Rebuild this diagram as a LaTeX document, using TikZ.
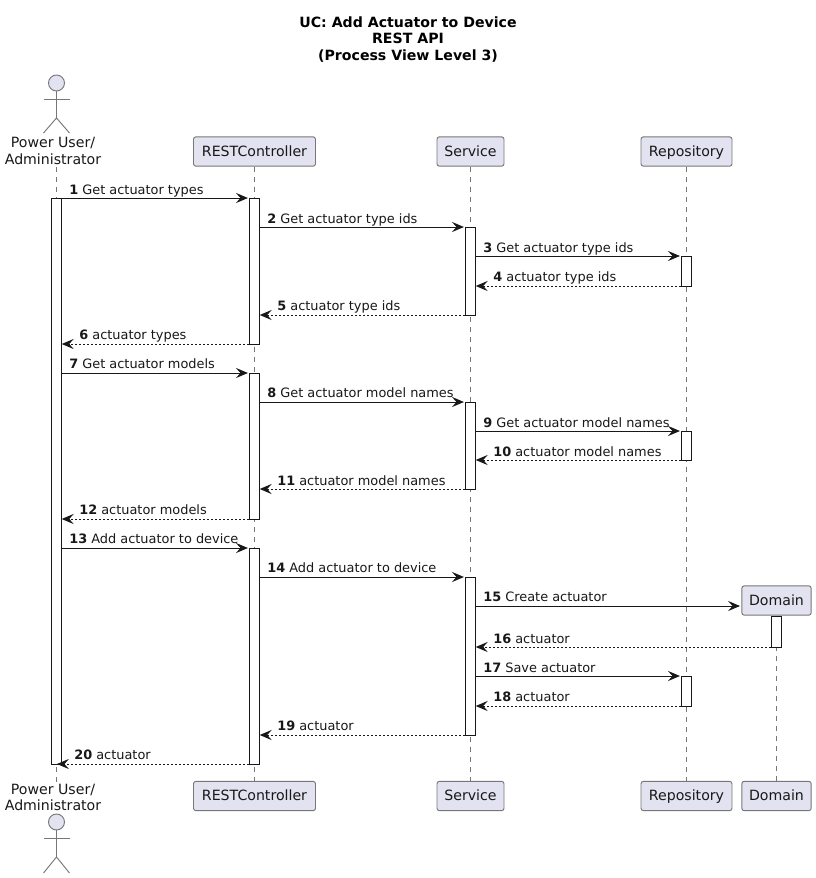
\documentclass[tikz,border=0pt]{standalone}
\usepackage{fontspec}
\setmainfont{DejaVu Sans}
\usetikzlibrary{arrows.meta}
\definecolor{inkc}{HTML}{181818}
\definecolor{partc}{HTML}{E2E2F0}
\definecolor{greyl}{HTML}{777777}
\tikzset{
  x=0.75pt,y=-0.75pt,
  part/.style={draw=greyl,fill=partc,line width=0.7pt,rounded corners=1.8pt,inner sep=0pt,
    minimum height=22pt,text height=9pt,text depth=1.7pt,font=\fontsize{10.6}{12.4}\selectfont,text=inkc},
  lifeline/.style={draw=greyl,line width=0.5pt,dash pattern=on 3.75pt off 3.75pt},
  actorline/.style={draw=greyl,line width=0.7pt},
  actorhead/.style={circle,draw=greyl,fill=partc,line width=0.7pt,minimum size=12pt,inner sep=0pt},
  actorname/.style={align=center,inner sep=0pt,font=\fontsize{10.6}{12.2}\selectfont,text=inkc},
  act/.style={draw=inkc,fill=white,line width=0.75pt,inner sep=0pt,minimum width=7.5pt},
  tip/.style={-{Stealth[length=9pt,width=7.6pt,inset=3.4pt]}},
  call/.style={tip,draw=inkc,line width=0.75pt},
  reply/.style={tip,draw=inkc,line width=0.75pt,dash pattern=on 1.5pt off 1.5pt},
  msg/.style={anchor=base west,inner sep=0pt,font=\fontsize{9.68}{11.5}\selectfont,text=inkc},
}
\newcommand{\num}[1]{\textbf{#1}}
\begin{document}
\begin{tikzpicture}
\useasboundingbox (0,0) rectangle (816,878);
\node[align=center,inner sep=0pt,font=\fontsize{10.6}{12.3}\bfseries\selectfont,text=black] (title) at (408,39.5)
  {UC: Add Actuator to Device\\REST API\\(Process View Level 3)};

% participants
\node[actorname] (userTop) at (53,151) {Power User/\\Administrator};
\node[part,minimum width=91.5pt] (restTop) at (254.5,151.5) {RESTController};
\node[part,minimum width=50.25pt] (servTop) at (470.5,151.5) {Service};
\node[part,minimum width=68.25pt] (repoTop) at (686.5,151.5) {Repository};
\node[part,minimum width=52pt] (domTop) at (776.5,600.5) {Domain};
\node[actorname] (userBot) at (53,797.5) {Power User/\\Administrator};
\node[part,minimum width=91.5pt] (restBot) at (254.5,796) {RESTController};
\node[part,minimum width=50.25pt] (servBot) at (470.5,796) {Service};
\node[part,minimum width=68.25pt] (repoBot) at (686.5,796) {Repository};
\node[part,minimum width=52pt] (domBot) at (776.5,796) {Domain};

% actors
\node[actorhead] (headTop) at (56.5,83) {};
\coordinate (armTL) at (43.5,99); \coordinate (armTR) at (69.5,99);
\coordinate (hipT) at (56.5,118); \coordinate (footTL) at (43.5,133); \coordinate (footTR) at (69.5,133);
\draw[actorline] (headTop.south) -- (hipT);
\draw[actorline] (armTL) -- (armTR);
\draw[actorline] (footTL) -- (hipT) -- (footTR);
\node[actorhead] (headBot) at (56.5,822) {};
\coordinate (armBL) at (43.5,838); \coordinate (armBR) at (69.5,838);
\coordinate (hipB) at (56.5,857); \coordinate (footBL) at (43.5,873); \coordinate (footBR) at (69.5,873);
\draw[actorline] (headBot.south) -- (hipB);
\draw[actorline] (armBL) -- (armBR);
\draw[actorline] (footBL) -- (hipB) -- (footBR);

% lifelines
\coordinate (lifeU1) at (56.5,167); \coordinate (lifeU2) at (56.5,782);
\draw[lifeline] (lifeU1) -- (lifeU2);
\draw[lifeline] (restTop) -- (restBot);
\draw[lifeline] (servTop) -- (servBot);
\draw[lifeline] (repoTop) -- (repoBot);
\draw[lifeline] (domTop) -- (domBot);

% activations
\node[act,minimum height=424.5pt] (aU) at (56.5,481) {};
\node[act,minimum height=109.5pt] (aR1) at (254.5,271) {};
\node[act,minimum height=109.5pt] (aR2) at (254.5,446) {};
\node[act,minimum height=162pt] (aR3) at (254.5,656) {};
\node[act,minimum height=66pt] (aS1) at (470.5,271) {};
\node[act,minimum height=65.25pt] (aS2) at (470.5,445.5) {};
\node[act,minimum height=118.5pt] (aS3) at (470.5,656) {};
\node[act,minimum height=22.5pt] (aP1) at (686.5,271) {};
\node[act,minimum height=21.75pt] (aP2) at (686.5,445.5) {};
\node[act,minimum height=22.5pt] (aP3) at (686.5,691) {};
\node[act,minimum height=23.25pt] (aD) at (776.5,631.5) {};

% message levels
\foreach \n/\y in {1/198,2/227,3/256,4/286,5/315,6/344,7/373,8/402,9/431,10/460,11/489,12/519,13/548,14/577,15/606,16/647,17/676,18/706,19/735,20/764}
  \coordinate (m\n) at (0,\y);

% messages
\draw[call]  (aU.east |- m1) -- ([xshift=-0.8pt]aR1.west |- m1);
\draw[call]  (aR1.east |- m2) -- ([xshift=-0.8pt]aS1.west |- m2);
\draw[call]  (aS1.east |- m3) -- ([xshift=-0.8pt]aP1.west |- m3);
\draw[reply] (aP1.west |- m4) -- ([xshift=-0.2pt]aS1.east |- m4);
\draw[reply] (aS1.west |- m5) -- ([xshift=-0.2pt]aR1.east |- m5);
\draw[reply] (aR1.west |- m6) -- ([xshift=-0.2pt]aU.east |- m6);
\draw[call]  (aU.east |- m7) -- ([xshift=-0.8pt]aR2.west |- m7);
\draw[call]  (aR2.east |- m8) -- ([xshift=-0.8pt]aS2.west |- m8);
\draw[call]  (aS2.east |- m9) -- ([xshift=-0.8pt]aP2.west |- m9);
\draw[reply] (aP2.west |- m10) -- ([xshift=-0.2pt]aS2.east |- m10);
\draw[reply] (aS2.west |- m11) -- ([xshift=-0.2pt]aR2.east |- m11);
\draw[reply] (aR2.west |- m12) -- ([xshift=-0.2pt]aU.east |- m12);
\draw[call]  (aU.east |- m13) -- ([xshift=-0.8pt]aR3.west |- m13);
\draw[call]  (aR3.east |- m14) -- ([xshift=-0.8pt]aS3.west |- m14);
\draw[call]  (aS3.east |- m15) -- ([xshift=-1pt]domTop.west |- m15);
\draw[reply] (aD.west |- m16) -- ([xshift=-0.2pt]aS3.east |- m16);
\draw[call]  (aS3.east |- m17) -- ([xshift=-0.8pt]aP3.west |- m17);
\draw[reply] (aP3.west |- m18) -- ([xshift=-0.2pt]aS3.east |- m18);
\draw[reply] (aS3.west |- m19) -- ([xshift=-0.2pt]aR3.east |- m19);
\draw[reply] (aR3.west |- m20) -- ([xshift=-3.8pt]aU.east |- m20);

% labels
\node[msg] (t1) at (69,194) {\num{1} Get actuator types};
\node[msg] (t2) at (267,223) {\num{2} Get actuator type ids};
\node[msg] (t3) at (483,252) {\num{3} Get actuator type ids};
\node[msg] (t4) at (493,281.5) {\num{4} actuator type ids};
\node[msg] (t5) at (277,310.5) {\num{5} actuator type ids};
\node[msg] (t6) at (79,339.5) {\num{6} actuator types};
\node[msg] (t7) at (69,368.5) {\num{7} Get actuator models};
\node[msg] (t8) at (267,397.5) {\num{8} Get actuator model names};
\node[msg] (t9) at (483,427) {\num{9} Get actuator model names};
\node[msg] (t10) at (493,456) {\num{10} actuator model names};
\node[msg] (t11) at (277,485) {\num{11} actuator model names};
\node[msg] (t12) at (79,514.5) {\num{12} actuator models};
\node[msg] (t13) at (69,543.5) {\num{13} Add actuator to device};
\node[msg] (t14) at (267,572.5) {\num{14} Add actuator to device};
\node[msg] (t15) at (483,601.5) {\num{15} Create actuator};
\node[msg] (t16) at (493,643.5) {\num{16} actuator};
\node[msg] (t17) at (483,672) {\num{17} Save actuator};
\node[msg] (t18) at (493,701.5) {\num{18} actuator};
\node[msg] (t19) at (277,730.5) {\num{19} actuator};
\node[msg] (t20) at (74,759.5) {\num{20} actuator};
\end{tikzpicture}
\end{document}
